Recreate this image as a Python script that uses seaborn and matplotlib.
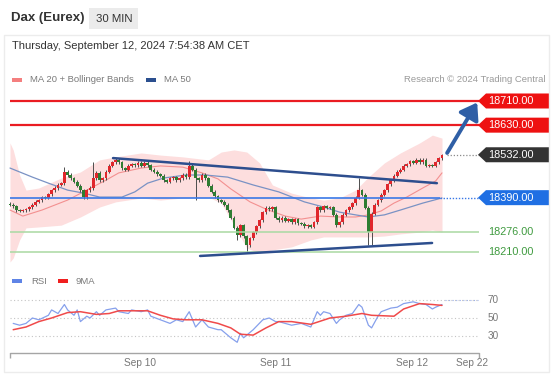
import numpy as np
import matplotlib
matplotlib.use("Agg")
import matplotlib.pyplot as plt
import matplotlib.transforms as mtransforms
from matplotlib.patches import Rectangle, Polygon
import seaborn as sns

# ---- data (30 min bars, Dax Eurex) ----
first_open = 18370
close = [18366, 18362, 18349, 18346, 18349, 18352, 18359, 18366, 18376, 18382,
         18392, 18389, 18402, 18415, 18422, 18432, 18438, 18475, 18465, 18455,
         18442, 18429, 18415, 18392, 18415, 18422, 18455, 18472, 18448, 18455,
         18475, 18495, 18508, 18515, 18508, 18488, 18482, 18495, 18501, 18498,
         18505, 18495, 18505, 18498, 18482, 18475, 18468, 18462, 18448, 18442,
         18455, 18458, 18448, 18455, 18465, 18458, 18495, 18482, 18455, 18448,
         18465, 18455, 18429, 18409, 18395, 18382, 18376, 18366, 18349, 18323,
         18290, 18266, 18299, 18263, 18233, 18256, 18276, 18296, 18316, 18342,
         18356, 18352, 18359, 18323, 18316, 18323, 18313, 18319, 18309, 18319,
         18306, 18303, 18296, 18299, 18293, 18309, 18359, 18349, 18362, 18356,
         18359, 18333, 18299, 18309, 18333, 18349, 18359, 18372, 18389, 18415,
         18399, 18356, 18276, 18336, 18366, 18382, 18399, 18415, 18435, 18448,
         18462, 18475, 18482, 18495, 18501, 18511, 18505, 18515, 18508, 18515,
         18495, 18498, 18495, 18508, 18521, 18531]
high_spikes = {17: 18490, 26: 18508, 56: 18511, 109: 18455}
low_spikes = {23: 18385, 58: 18382, 71: 18250, 74: 18210, 112: 18233, 113: 18233}

band_bar = [0, 1, 3, 5, 9, 16, 22, 28, 33, 41, 47, 54, 62, 66, 70, 74, 78, 82, 88,
            94, 98, 103, 108, 112, 117, 122, 128, 132, 135]
band_upper = [18571, 18548, 18465, 18415, 18422, 18455, 18475, 18515, 18525, 18538,
              18531, 18525, 18515, 18541, 18548, 18541, 18505, 18432, 18405, 18389,
              18382, 18389, 18415, 18458, 18505, 18538, 18571, 18597, 18587]
band_lower = [18177, 18190, 18250, 18290, 18293, 18299, 18326, 18359, 18376, 18389,
              18382, 18389, 18392, 18372, 18299, 18223, 18207, 18217, 18227, 18250,
              18260, 18260, 18260, 18260, 18263, 18270, 18276, 18283, 18276]

ma20_bar = [0, 4, 10, 18, 24, 30, 34, 41, 47, 54, 60, 65, 69, 75, 80, 86, 91, 97,
            103, 108, 112, 116, 120, 124, 129, 133, 135]
ma20_val = [18349, 18329, 18349, 18382, 18415, 18448, 18472, 18488, 18495, 18491,
            18472, 18452, 18419, 18376, 18352, 18329, 18319, 18329, 18326, 18326,
            18333, 18346, 18372, 18392, 18422, 18445, 18472]

ma50_bar = [0, 7, 12, 18, 23, 28, 35, 39, 43, 48, 55, 61, 68, 76, 84, 92, 98, 103,
            108, 112, 117, 122, 129, 135]
ma50_val = [18488, 18458, 18438, 18415, 18405, 18392, 18392, 18409, 18438, 18455,
            18465, 18465, 18458, 18432, 18409, 18376, 18359, 18342, 18333, 18326,
            18333, 18349, 18372, 18389]

levels = [18710, 18630, 18532, 18390, 18276, 18210]
level_kinds = ["res", "res", "last", "pivot", "sup", "sup"]

trend_top = ([32.2, 133.4], [18521, 18438])
trend_bottom = ([59.4, 131.9], [18197, 18240])
arrow_from = (136.6, 18538)
arrow_to = (146.0, 18705)

rsi_bar = [1, 3, 5, 7, 9, 12, 13, 15, 17, 18, 20, 21, 22, 24, 25, 27, 28, 30, 33, 34,
           37, 38, 41, 43, 44, 47, 50, 52, 54, 56, 58, 60, 62, 65, 66, 69, 71, 72, 73,
           76, 79, 81, 83, 84, 88, 91, 94, 96, 97, 98, 100, 102, 103, 105, 107, 109,
           110, 112, 113, 115, 116, 119, 121, 123, 126, 128, 130, 132, 133, 135]
rsi_val = [44, 42, 44, 50, 48, 53, 59, 55, 65, 59, 53, 59, 46, 52, 50, 57, 53, 59, 61, 57,
           55, 59, 57, 59, 52, 48, 44, 48, 46, 57, 40, 48, 40, 37, 37, 28, 23, 33, 28,
           37, 48, 50, 46, 46, 42, 44, 40, 57, 53, 57, 55, 44, 48, 53, 55, 65,
           62, 42, 39, 52, 57, 61, 62, 66, 68, 66, 65, 60, 62, 65]
ma9_bar = [1, 5, 9, 13, 18, 22, 27, 31, 34, 38, 43, 47, 51, 55, 60, 65, 69, 72, 76, 80,
           84, 88, 94, 100, 105, 110, 113, 120, 123, 128, 132, 135]
ma9_val = [37, 40, 46, 50, 56, 57, 54, 55, 58, 58, 58, 53, 49, 48, 48, 44, 39, 32, 31, 39,
           46, 46, 43, 50, 52, 55, 53, 52, 60, 66, 65, 64]
rsi_levels = [70, 50, 30]

day_ticks = [40.6, 83.1, 125.6, 144.4]
day_labels = ["Sep 10", "Sep 11", "Sep 12", "Sep 22"]

# ---- figure ----
sns.set_theme(style="white")
plt.rcParams["font.family"] = ["Liberation Sans", "DejaVu Sans"]

W, H = 553, 375
fig = plt.figure(figsize=(W / 100, H / 100), dpi=100)
fig.patch.set_facecolor("white")


def fx(x):
    return x / W


def fy(y):
    return 1 - y / H


def bx(px):
    # pixel column -> bar index
    return (px - 10) / 3.2


# header
fig.text(fx(11), fy(18), "Dax (Eurex)", fontsize=9.5, fontweight="bold", color="#333333", va="center")
fig.patches.append(Rectangle((fx(89), fy(29)), 49 / W, 21 / H, transform=fig.transFigure,
                             facecolor="#ebebeb", edgecolor="none"))
fig.text(fx(114), fy(18.5), "30 MIN", fontsize=8.2, color="#333333", va="center", ha="center")
fig.patches.append(Rectangle((fx(4), fy(372)), 545 / W, 337 / H, transform=fig.transFigure,
                             fill=False, edgecolor="#ececec", lw=1))
fig.text(fx(12), fy(46), "Thursday, September 12, 2024 7:54:38 AM CET", fontsize=8,
         color="#333333", va="center")

# legends
fig.patches.append(Rectangle((fx(12), fy(82)), 10 / W, 4 / H, transform=fig.transFigure,
                             facecolor="#f47f7f", edgecolor="none"))
fig.text(fx(30), fy(80), "MA 20 + Bollinger Bands", fontsize=6.8, color="#7a7a7a", va="center")
fig.patches.append(Rectangle((fx(146), fy(82)), 10 / W, 4 / H, transform=fig.transFigure,
                             facecolor="#2b4f8f", edgecolor="none"))
fig.text(fx(164), fy(80), "MA 50", fontsize=6.8, color="#7a7a7a", va="center")
fig.text(fx(545), fy(80), "Research \u00a9 2024 Trading Central", fontsize=6.8, color="#9a9a9a",
         va="center", ha="right")

fig.patches.append(Rectangle((fx(12), fy(283)), 10 / W, 4 / H, transform=fig.transFigure,
                             facecolor="#5f84e6", edgecolor="none"))
fig.text(fx(31), fy(281), "RSI", fontsize=6.8, color="#7a7a7a", va="center")
fig.patches.append(Rectangle((fx(58), fy(283)), 10 / W, 4 / H, transform=fig.transFigure,
                             facecolor="#f01f1f", edgecolor="none"))
fig.text(fx(76), fy(281), "9MA", fontsize=6.8, color="#7a7a7a", va="center")

# ---- price panel ----
ax = fig.add_axes([fx(8), fy(262), 540 / W, 174 / H])
ax.set_xlim(bx(8), bx(548))
ax.set_ylim(18177, 18753)
ax.axis("off")

ax.fill_between(band_bar, band_upper, band_lower, color="#fddede", lw=0, zorder=1)
sns.lineplot(x=ma20_bar, y=ma20_val, ax=ax, color="#f39090", lw=0.8, zorder=2)
sns.lineplot(x=ma50_bar, y=ma50_val, ax=ax, color="#7a92c4", lw=0.9, zorder=2)

closes = np.array(close, dtype=float)
opens = np.r_[first_open, closes[:-1]]
bars = np.arange(len(closes))
highs = np.maximum(opens, closes) + 5
lows = np.minimum(opens, closes) - 5
for i, v in high_spikes.items():
    highs[i] = v
for i, v in low_spikes.items():
    lows[i] = v
up = closes >= opens
ax.vlines(bars, lows, highs, color="#4d4d4d", lw=0.7, zorder=3)
ax.bar(bars, np.maximum(np.abs(closes - opens), 3.5), bottom=np.minimum(opens, closes),
       width=0.82, color=np.where(up, "#e0262c", "#2e7d32"), linewidth=0, zorder=4)

styles = {
    "res": dict(color="#ea1c22", lw=1.6),
    "sup": dict(color="#a9d9a2", lw=1.1),
    "pivot": dict(color="#3a78e6", lw=1.2),
}
for lv, kind in zip(levels, level_kinds):
    if kind == "res" or kind == "sup":
        ax.hlines(lv, bx(10), bx(479), zorder=5, **styles[kind])
    elif kind == "pivot":
        ax.hlines(lv, bx(10), bx(440), zorder=5, **styles[kind])
        ax.hlines(lv, bx(440), bx(479), color="#3a78e6", lw=1.0, linestyles=(0, (1, 1.2)), zorder=5)
    else:
        ax.hlines(lv, bx(447), bx(479), color="#8a8a8a", lw=0.9, linestyles=(0, (1, 1.5)), zorder=5)

ax.plot(*trend_top, color="#2d4e8e", lw=1.8, solid_capstyle="round", zorder=6)
ax.plot(*trend_bottom, color="#2d4e8e", lw=1.8, solid_capstyle="round", zorder=6)
ax.annotate("", xy=arrow_to, xytext=arrow_from,
            arrowprops=dict(arrowstyle="-|>,head_length=0.8,head_width=0.55", lw=2.8,
                            color="#2f5fa6", shrinkA=0, shrinkB=0), zorder=7)

# price tags
trans = mtransforms.blended_transform_factory(fig.transFigure, ax.transData)
half = 7.5 * 3.311
tag_bg = {"res": "#ee1111", "last": "#333333", "pivot": "#1f6fe3"}
for lv, kind in zip(levels, level_kinds):
    if kind in tag_bg:
        pts = [(fx(478), lv), (fx(486), lv + half), (fx(550), lv + half),
               (fx(550), lv - half), (fx(486), lv - half)]
        ax.add_patch(Polygon(pts, closed=True, transform=trans, facecolor=tag_bg[kind],
                             edgecolor="none", clip_on=False, zorder=8))
        ax.text(fx(488), lv, f"{lv:.2f}", transform=trans, color="white", fontsize=7.8,
                va="center", zorder=9)
    else:
        ax.text(fx(488), lv, f"{lv:.2f}", transform=trans, color="#3f9a3f", fontsize=7.8,
                va="center", zorder=9)

# ---- RSI panel ----
rax = fig.add_axes([fx(8), fy(352), 540 / W, 62 / H])
rax.set_xlim(bx(8), bx(548))
rax.set_ylim(30 - 16 / 0.9, 70 + 10 / 0.9)
rax.axis("off")

rax.hlines(rsi_levels, 0, bx(478), color="#c4c4c4", lw=0.8, linestyles=(0, (1, 2.2)))
rax.hlines(70, bx(445), bx(478), color="#9fb3ec", lw=0.8, linestyles=(0, (1, 2.2)))
for v in rsi_levels:
    rax.text(bx(488), v, str(v), color="#777777", fontsize=7.2, va="center")
sns.lineplot(x=rsi_bar, y=rsi_val, ax=rax, color="#86a0ec", lw=0.9)
sns.lineplot(x=ma9_bar, y=ma9_val, ax=rax, color="#f04a4a", lw=1.1)

axis_y = 30 - 17 / 0.9
rax.plot([bx(10), bx(479)], [axis_y, axis_y], color="#a5a5a5", lw=1, clip_on=False)
rax.vlines([bx(10), bx(479)], axis_y - 5, axis_y, color="#a5a5a5", lw=1, clip_on=False)
for t, lab in zip(day_ticks, day_labels):
    rax.text(t, 30 - 27 / 0.9, lab, color="#777777", fontsize=7.3, ha="center", va="center")

fig.savefig("out.png", dpi=100, facecolor="white")
